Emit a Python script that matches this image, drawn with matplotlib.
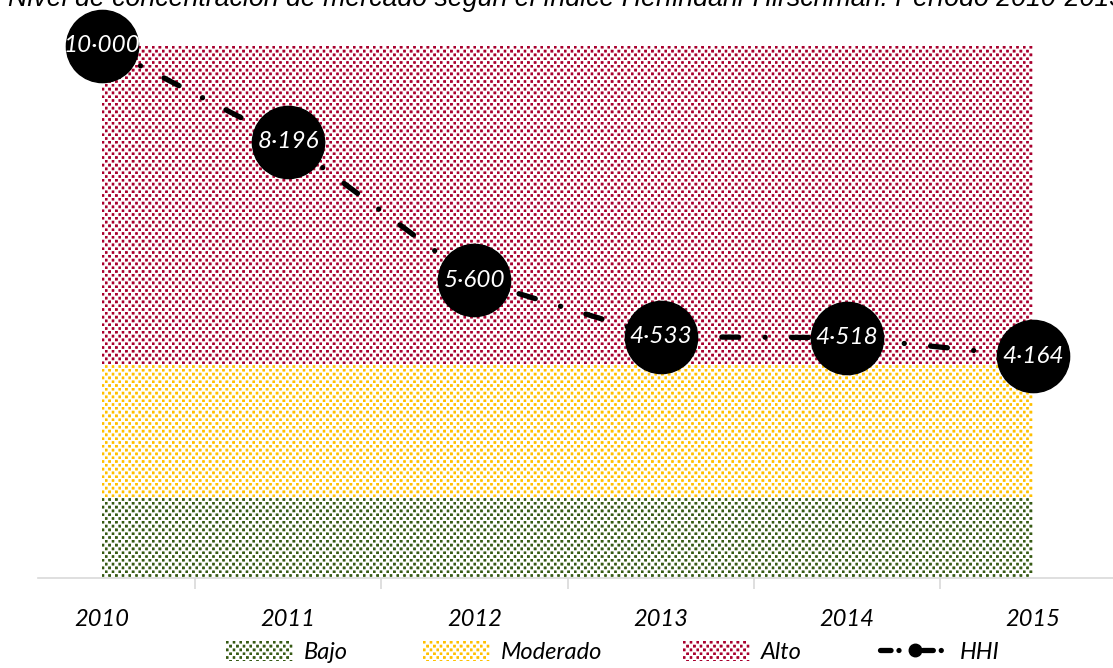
import matplotlib
matplotlib.use("Agg")
import matplotlib.pyplot as plt
from matplotlib.lines import Line2D
from matplotlib.patches import Rectangle
from matplotlib.colors import to_rgba
import numpy as np

years = ["2010", "2011", "2012", "2013", "2014", "2015"]
hhi = [10000, 8196, 5600, 4533, 4518, 4164]
bajo = [1500, 1500, 1500, 1500, 1500, 1500]
moderado = [2500, 2500, 2500, 2500, 2500, 2500]
alto = [6000, 6000, 6000, 6000, 6000, 6000]
series_names = ["Bajo", "Moderado", "Alto", "HHI"]
title = "Nivel de concentración de mercado según el índice Herfindahl-Hirschman. Período 2010-2015"

FONT = ["Lato", "DejaVu Sans"]
W, H = 1113, 668
AX_L, AX_R, AX_B, AX_T = 38, 1113, 578, 46  # pixel box of the plot area

fig = plt.figure(figsize=(W / 100, H / 100), dpi=100)
ax = fig.add_axes([AX_L / W, (H - AX_B) / H, (AX_R - AX_L) / W, (AX_B - AX_T) / H])

c_bajo, c_mod, c_alto = "#365A14", "#FFC000", "#A8002E"
colors = [c_bajo, c_mod, c_alto]


def dot_pattern(h, w, color, ss=4, dx=6.7, dy=3.8, d=2.6):
    # staggered grid of small square dots, antialiased by supersampling
    yy, xx = np.mgrid[0:h * ss, 0:w * ss]
    yy = (yy + 0.5) / ss
    xx = (xx + 0.5) / ss
    row = np.floor(yy / dy).astype(int)
    mask = ((yy % dy) < d) & (((xx + (row % 2) * dx / 2) % dx) < d)
    cov = mask.reshape(h, ss, w, ss).mean(axis=(1, 3))
    img = np.zeros((h, w, 4))
    img[..., :3] = to_rgba(color)[:3]
    img[..., 3] = np.clip(cov * 1.2, 0, 1)
    return img


x = np.arange(len(years))
xlim = (-(102 - AX_L) / 186.2, 5 + (AX_R - 1033) / 186.2)
ax.set_xlim(*xlim)
ax.set_ylim(0, 10000)

b0 = np.zeros(len(years))
b1 = b0 + np.array(bajo)
b2 = b1 + np.array(moderado)
b3 = b2 + np.array(alto)
ph, pw = AX_B - AX_T, AX_R - AX_L
for lo, hi, col in zip([b0, b1, b2], [b1, b2, b3], colors):
    poly = ax.fill_between(x, lo, hi, facecolor="none", linewidth=0, zorder=1)
    im = ax.imshow(dot_pattern(ph, pw, col), extent=(xlim[0], xlim[1], 0, 10000),
                   origin="upper", interpolation="nearest", aspect="auto", zorder=1)
    im.set_clip_path(poly.get_paths()[0], transform=ax.transData)

ls = (0, (3.2, 5.0, 0.01, 5.0))
ax.plot(x, hhi, color="black", lw=3.8, linestyle=ls,
        dash_capstyle="round", zorder=3, clip_on=False)
ax.plot(x, hhi, linestyle="none", marker="o", markersize=52, color="black",
        zorder=4, clip_on=False)
for xi, v in zip(x, hhi):
    ax.text(xi, v, f"{v:,}".replace(",", "·"), color="white", fontsize=17.5,
            style="italic", family=FONT, ha="center", va="center", zorder=5)

ax.set_yticks([])
ax.set_xticks(x[:-1] + 0.5)
ax.set_xticklabels([])
ax.set_xticks(x, minor=True)
ax.set_xticklabels(years, minor=True, fontsize=17, style="italic", family=FONT)
ax.tick_params(axis="x", which="major", length=8, width=1.2, color="#D9D9D9")
ax.tick_params(axis="x", which="minor", length=0, pad=22)
for s in ["top", "right", "left"]:
    ax.spines[s].set_visible(False)
ax.spines["bottom"].set_color("#D9D9D9")
ax.spines["bottom"].set_linewidth(1.2)
ax.patch.set_visible(False)

fig.text(8 / W, 1 - 6 / H, title, fontsize=19.3, style="italic",
         family=["Liberation Sans", "DejaVu Sans"], va="baseline", ha="left")

# legend: one entry per position
leg_y = 1 - 652 / H
leg_x = [226, 423, 683, 880]
swatches = []
for i, (name, lx) in enumerate(zip(series_names, leg_x)):
    if i < 3:
        h = Rectangle((0, 0), 1, 1, facecolor="none", edgecolor="none")
        hl, hh, pad = 2.85, 0.9, 0.45
    else:
        h = Line2D([0], [0], color="black", lw=3.8, linestyle=(0, (2.0, 1.5, 0.01, 4.5)),
                   dash_capstyle="round", marker="o", markersize=9)
        hl, hh, pad = 3.0, 0.9, 0.4
    leg = fig.legend([h], [name], loc="center left", bbox_to_anchor=(lx / W, leg_y),
                     frameon=False, handlelength=hl, handleheight=hh,
                     handletextpad=pad, borderpad=0, borderaxespad=0,
                     prop={"family": FONT, "style": "italic", "size": 17})
    if i < 3:
        swatches.append((leg.legend_handles[0], colors[i]))

fig.canvas.draw()
for patch, col in swatches:
    bb = patch.get_window_extent()
    x0, y0 = int(round(bb.x0)), int(round(bb.y0))
    w_, h_ = int(round(bb.width)), int(round(bb.height))
    fig.figimage(dot_pattern(h_, w_, col), xo=x0, yo=y0, origin="upper", zorder=10)

fig.savefig("out.png", dpi=100)
